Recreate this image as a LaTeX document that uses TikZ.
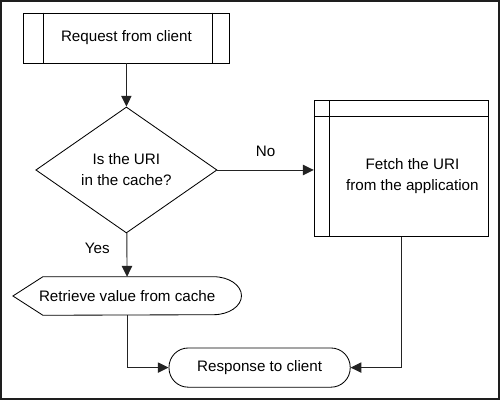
\documentclass[tikz,border=0pt]{standalone}
\usepackage{fontspec}
\setmainfont{Liberation Sans}
\usetikzlibrary{shapes.geometric,arrows.meta}
\definecolor{linegray}{RGB}{35, 35, 35}
\definecolor{framegray}{RGB}{30, 30, 30}

\begin{document}
\begin{tikzpicture}[
    font=\fontsize{10.8}{15}\selectfont,
    boxline/.style={draw=black, line width=0.6pt},
    flowarrow/.style={draw=linegray, line width=0.65pt, -{Triangle[length=2.7mm,width=2.6mm]}}
  ]
            \useasboundingbox                                             ( 0.00, 0.00) rectangle (12.50,10.00);
            \draw[color=framegray, line width=1.4pt]                     ( 0.03, 0.03) rectangle (12.47, 9.97);
            \node[boxline, minimum width=5.13cm, minimum height=1.25cm]   (request)  at ( 3.16, 9.05) {Request from client};
            \node[boxline, diamond, inner sep=0pt, align=center,
                  minimum width=4.53cm, minimum height=3.15cm]            (decision) at ( 3.16, 5.75) {Is the URI\\in the cache?};
            \node[boxline, minimum width=4.35cm, minimum height=3.40cm]   (fetch)    at (10.03, 5.78) {};
            \node[align=center]                                           (fetchtext) at ([shift={(0.28,-0.18)}]fetch.center) {Fetch the URI\\from the application};
            \node[inner sep=0pt, minimum width=5.70cm, minimum height=0.95cm] (retrieve) at ( 3.18, 2.60) {Retrieve value from cache};
            \node[boxline, rounded corners=0.48cm,
                  minimum width=4.53cm, minimum height=0.98cm]            (response) at ( 6.49, 0.81) {Response to client};
            \draw[boxline] ([xshift= 0.50cm]request.north west) -- ([xshift= 0.50cm]request.south west);
            \draw[boxline] ([xshift=-0.43cm]request.north east) -- ([xshift=-0.43cm]request.south east);
            \draw[boxline] ([xshift= 0.38cm]fetch.north west)   -- ([xshift= 0.38cm]fetch.south west);
            \draw[boxline] ([yshift=-0.40cm]fetch.north west)   -- ([yshift=-0.40cm]fetch.north east);
            \draw[boxline] (retrieve.west) -- ([xshift=0.75cm]retrieve.north west) -- ([xshift=-0.70cm]retrieve.north east)
                           arc[start angle=90, end angle=-90, x radius=0.70cm, y radius=0.475cm]
                           -- ([xshift=0.75cm]retrieve.south west) -- cycle;
            \draw[flowarrow] (request) -- (decision);
            \draw[flowarrow] (decision.east) -- node[above=2mm] (nolabel) {No} (decision.east -| fetch.west);
            \draw[flowarrow] (decision) -- node[left=3mm, pos=0.35] (yeslabel) {Yes} (retrieve);
            \draw[flowarrow] (retrieve.south) |- (response.west);
            \draw[flowarrow] (fetch.south) |- (response.east);
        \end{tikzpicture}
\end{document}
